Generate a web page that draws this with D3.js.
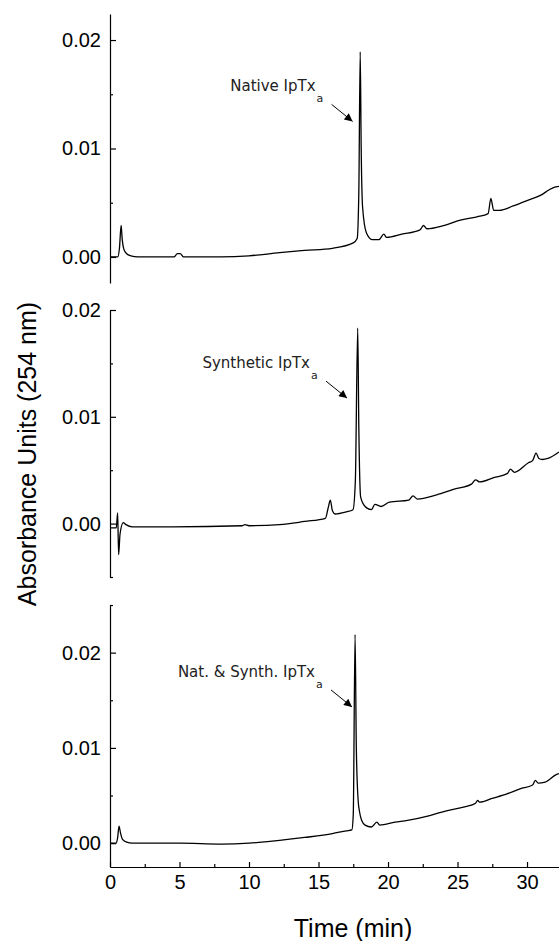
<!DOCTYPE html>
<html>
<head>
<meta charset="utf-8">
<script src="https://cdn.jsdelivr.net/npm/d3@7"></script>
<style>
	body { margin: 0; background: #fff; }
	svg { display: block; }
	.axis path, .axis line { stroke: #000; stroke-width: 1.2px; }
	.axis text { font-family: 'Liberation Sans', Arial, sans-serif; fill: #000; }
	.trace { fill: none; stroke: #000; stroke-width: 1.3px; stroke-linejoin: round; }
	.note { font-family: 'DejaVu Sans', sans-serif; fill: #222; }
</style>
</head>
<body>
<div id="chart"></div>
<script>
'use strict';

// retention time (min) / absorbance
var nativeTime = [0, 0.55, 0.68, 0.8, 0.88, 1.0, 1.2, 1.5, 2.0, 4.6, 4.85, 5.05, 5.3, 8.0, 10.0, 12.2, 14.0, 16.0,
	17.5, 17.78, 17.9, 18.0, 18.07, 18.17, 18.45, 18.85, 19.35, 19.7, 19.9, 21.0, 22.3, 22.55, 22.8, 24.0,
	25.2, 26.4, 27.2, 27.4, 27.6, 28.0, 29.0, 30.0, 31.0, 31.6, 31.9, 32.3];
var nativeAbs = [0, 0, 0.0008, 0.0029, 0.0016, 0.0007, 0.0003, 0.0001, 0, 0, 0.0003, 0.0003, 0, 0, 0.0001, 0.0004, 0.0006, 0.0008,
	0.0013, 0.0017, 0.006, 0.0189, 0.010, 0.0046, 0.0022, 0.0016, 0.0016, 0.0021, 0.0018, 0.0021, 0.0025, 0.0029, 0.0026, 0.0029,
	0.0034, 0.0037, 0.0040, 0.0054, 0.0043, 0.0043, 0.0047, 0.0052, 0.0057, 0.0062, 0.0064, 0.0065];

var synthTime = [0, 0.45, 0.55, 0.62, 0.72, 0.95, 1.15, 1.6, 4.5, 9.5, 9.7, 10.0, 12.2, 14.0, 15.5, 15.7, 15.85, 16.0, 16.2,
	17.0, 17.48, 17.65, 17.82, 17.9, 18.03, 18.35, 18.8, 19.06, 19.5, 20.1, 21.5, 21.8, 22.1, 23.5, 24.7, 26.0, 26.3, 26.6,
	27.6, 28.6, 28.8, 29.1, 30.1, 30.4, 30.65, 30.85, 31.1, 31.5, 32.3];
var synthAbs = [-0.0004, -0.0004, 0.0010, -0.0029, -0.0010, 0.0001, -0.0001, -0.0003, -0.0003, -0.0002, -0.0001, -0.0002, -0.0001, 0.0002, 0.0005, 0.0015, 0.0022, 0.0012, 0.0009,
	0.0011, 0.0013, 0.004, 0.0183, 0.009, 0.0025, 0.0016, 0.0013, 0.0018, 0.0016, 0.0020, 0.0022, 0.0026, 0.0023, 0.0027, 0.0032, 0.0037, 0.0041, 0.0039,
	0.0043, 0.0047, 0.0051, 0.0048, 0.0057, 0.0059, 0.0066, 0.0061, 0.0060, 0.0061, 0.0067];

var mixTime = [0, 0.45, 0.55, 0.65, 0.75, 0.9, 1.2, 1.6, 5.0, 8.0, 10.0, 11.5, 12.2, 14.0, 16.0, 17.0, 17.4, 17.5, 17.63,
	17.72, 17.85, 17.95, 18.1, 18.35, 18.8, 19.2, 19.4, 20.5, 21.4, 23.0, 24.2, 25.5, 26.3, 26.45, 26.6, 27.5, 28.6, 29.5,
	30.4, 30.6, 30.8, 31.3, 32.1, 32.3];
var mixAbs = [0, 0, 0.0006, 0.0018, 0.0011, 0.0004, 0.0001, 0, 0, -0.0001, 0, 0.0002, 0.0003, 0.0006, 0.0010, 0.0013, 0.0014, 0.003, 0.0219,
	0.010, 0.0045, 0.0033, 0.0024, 0.0019, 0.0017, 0.0022, 0.0019, 0.0022, 0.0024, 0.0029, 0.0034, 0.0038, 0.0042, 0.0045, 0.0043, 0.0047, 0.0052, 0.0057,
	0.0061, 0.0066, 0.0063, 0.0064, 0.0072, 0.0073];

var xTicks = [0, 5, 10, 15, 20, 25, 30];
var xMinorTicks = [2.5, 7.5, 12.5, 17.5, 22.5, 27.5];
var yTicks = [0, 0.01, 0.02];
var yMinorTicks = [-0.005, 0.005, 0.015, 0.025];

var noteLabels = ['Native IpTx', 'Synthetic IpTx', 'Nat. & Synth. IpTx'];
var noteTipTime = [17.45, 17.05, 17.41];
var noteTipAbs = [0.0125, 0.01175, 0.0143];

var width = 559;
var height = 941;
var left = 110;

var panels = [
	{ time: nativeTime, abs: nativeAbs, domain: [-0.0024, 0.0224], top: 14, bottom: 283 },
	{ time: synthTime, abs: synthAbs, domain: [-0.005, 0.02], top: 310, bottom: 577 },
	{ time: mixTime, abs: mixAbs, domain: [-0.0025, 0.025], top: 605, bottom: 867 }
];

var svg = d3.select('#chart').append('svg')
	.attr('width', width)
	.attr('height', height);

var defs = svg.append('defs');
defs.append('marker')
	.attr('id', 'head')
	.attr('viewBox', '0 0 10 10')
	.attr('refX', 10)
	.attr('refY', 5)
	.attr('markerUnits', 'userSpaceOnUse')
	.attr('markerWidth', 12)
	.attr('markerHeight', 8)
	.attr('orient', 'auto')
.append('path')
	.attr('d', 'M0,0L10,5L0,10Z')
	.attr('fill', '#000');

var xscale = d3.scaleLinear()
	.domain([0, 32.3])
	.range([left, width]);

var inDomain = function(v, dom) {
	return v >= dom[0] - 1e-9 && v <= dom[1] + 1e-9;
};

panels.forEach(function(p, i) {
	var yscale = d3.scaleLinear()
		.domain(p.domain)
		.range([p.bottom, p.top]);

	var g = svg.append('g');

	g.append('g')
		.attr('class', 'axis')
		.attr('transform', 'translate(' + left + ',0)')
		.call(d3.axisLeft(yscale)
			.tickValues(yTicks.filter(function(v) { return inDomain(v, p.domain); }))
			.tickFormat(d3.format('.2f'))
			.tickSizeInner(-6)
			.tickSizeOuter(0)
			.tickPadding(9))
		.selectAll('text')
		.style('font-size', '20px');

	g.append('g')
		.attr('class', 'axis')
		.attr('transform', 'translate(' + left + ',0)')
		.call(d3.axisLeft(yscale)
			.tickValues(yMinorTicks.filter(function(v) { return inDomain(v, p.domain); }))
			.tickFormat('')
			.tickSizeInner(-3)
			.tickSizeOuter(0))
		.select('.domain').remove();

	var line = d3.line()
		.curve(d3.curveMonotoneX)
		.x(function(d) { return xscale(d[0]); })
		.y(function(d) { return yscale(d[1]); });

	g.append('path')
		.attr('class', 'trace')
		.attr('d', line(d3.zip(p.time, p.abs)));

	// label with arrow pointing at the IpTx peak
	var tx = xscale(noteTipTime[i]);
	var ty = yscale(noteTipAbs[i]);
	g.append('text')
		.attr('class', 'note')
		.attr('x', tx - 37)
		.attr('y', ty - 30)
		.attr('text-anchor', 'end')
		.style('font-size', '15px')
		.text(noteLabels[i]);
	g.append('text')
		.attr('class', 'note')
		.attr('x', tx - 36)
		.attr('y', ty - 19)
		.style('font-size', '11px')
		.text('a');
	g.append('line')
		.attr('x1', tx - 21)
		.attr('y1', ty - 17)
		.attr('x2', tx)
		.attr('y2', ty)
		.attr('stroke', '#000')
		.attr('stroke-width', 1)
		.attr('marker-end', 'url(#head)');
});

var xaxis = svg.append('g')
	.attr('class', 'axis')
	.attr('transform', 'translate(0,867)')
	.call(d3.axisBottom(xscale)
		.tickValues(xTicks)
		.tickSizeInner(-5)
		.tickSizeOuter(0)
		.tickPadding(8));
xaxis.selectAll('text').style('font-size', '20px');

svg.append('g')
	.attr('class', 'axis')
	.attr('transform', 'translate(0,867)')
	.call(d3.axisBottom(xscale)
		.tickValues(xMinorTicks)
		.tickFormat('')
		.tickSizeInner(-3)
		.tickSizeOuter(0))
	.select('.domain').remove();

svg.append('text')
	.attr('transform', 'translate(36,454) rotate(-90)')
	.attr('text-anchor', 'middle')
	.style('font-family', "'Liberation Sans', Arial, sans-serif")
	.style('font-size', '25px')
	.text('Absorbance Units (254 nm)');

svg.append('text')
	.attr('x', 353)
	.attr('y', 937)
	.attr('text-anchor', 'middle')
	.style('font-family', "'Liberation Sans', Arial, sans-serif")
	.style('font-size', '25px')
	.text('Time (min)');
</script>
</body>
</html>
